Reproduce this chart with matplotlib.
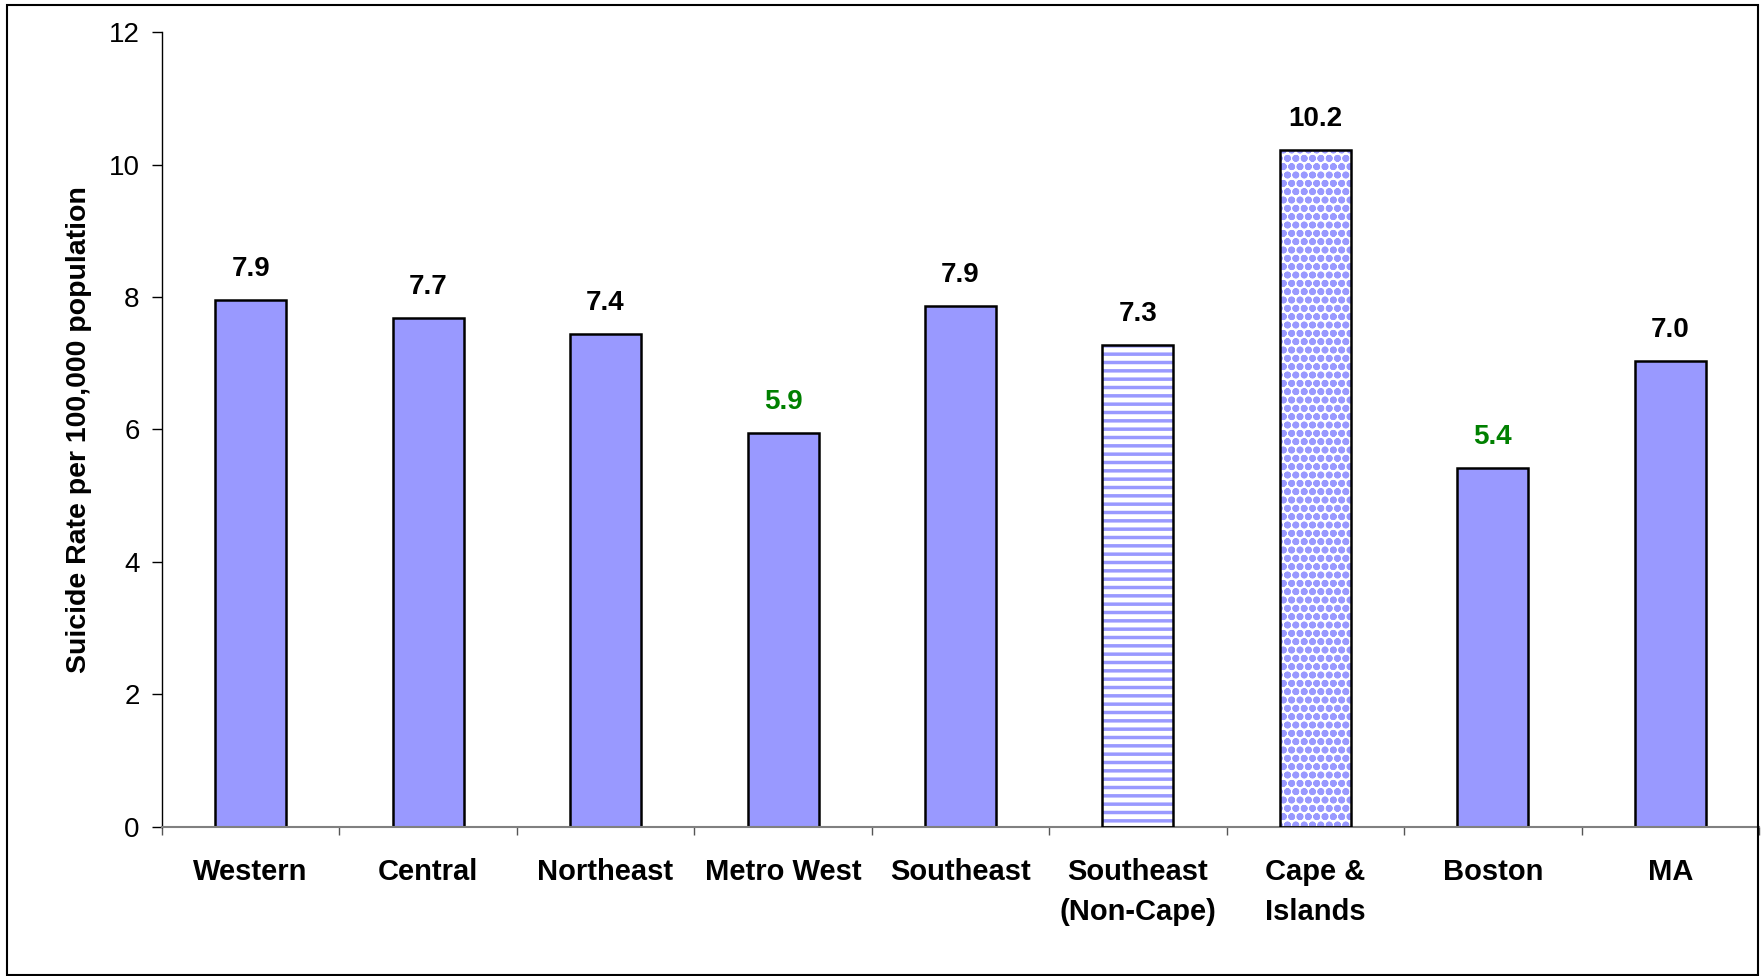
import matplotlib
matplotlib.use("Agg")
import matplotlib.pyplot as plt
from matplotlib.patches import Rectangle
import numpy as np

categories = ["Western", "Central", "Northeast", "Metro West", "Southeast",
              "Southeast\n(Non-Cape)", "Cape &\nIslands", "Boston", "MA"]
rates = [7.95, 7.68, 7.44, 5.94, 7.86, 7.27, 10.22, 5.42, 7.03]
value_labels = ["7.9", "7.7", "7.4", "5.9", "7.9", "7.3", "10.2", "5.4", "7.0"]
label_colors = ["black", "black", "black", "#008000", "black", "black", "black", "#008000", "black"]
hatches = [None, None, None, None, None, "--", "oo", None, None]
y_ticks = [0, 2, 4, 6, 8, 10, 12]

plt.rcParams['font.family'] = ['Liberation Sans', 'DejaVu Sans']
plt.rcParams['hatch.linewidth'] = 2.5

fig = plt.figure(figsize=(17.62, 9.76), dpi=100)
ax = fig.add_axes([0.0919, 0.1527, 0.9064, 0.8145])

x = np.arange(len(categories))
fill = '#9999FF'
for xi, h, ht in zip(x, rates, hatches):
    if ht is None:
        ax.bar(xi, h, width=0.4, color=fill, edgecolor='black', linewidth=1.8, zorder=2)
    else:
        ax.bar(xi, h, width=0.4, color='white', edgecolor=fill, hatch=ht, linewidth=0, zorder=2)
        ax.bar(xi, h, width=0.4, fill=False, edgecolor='black', linewidth=1.8, zorder=3)

for xi, h, lab, c in zip(x, rates, value_labels, label_colors):
    ax.annotate(lab, (xi, h), xytext=(0, 13), textcoords='offset points',
                ha='center', va='bottom', fontsize=20, fontweight='bold', color=c)

ax.set_xlim(-0.5, len(categories) - 0.5)
ax.set_ylim(0, 12)
ax.set_yticks(y_ticks)
ax.set_yticklabels([str(t) for t in y_ticks], fontsize=20)
ax.tick_params(axis='y', length=7, width=1, color='black', pad=9)

ax.set_xticks(x)
ax.set_xticklabels(categories, fontsize=21, fontweight='bold', linespacing=1.55)
ax.tick_params(axis='x', which='major', length=0, pad=22)
ax.set_xticks(np.arange(len(categories) + 1) - 0.5, minor=True)
ax.tick_params(axis='x', which='minor', length=6, width=1, color='#555555', direction='out')

ax.set_ylabel("Suicide Rate per 100,000 population", fontsize=20.5, fontweight='bold', labelpad=12)

for s in ['top', 'right']:
    ax.spines[s].set_visible(False)
ax.spines['left'].set_color('black')
ax.spines['left'].set_linewidth(1.0)
ax.spines['bottom'].set_color('#808080')
ax.spines['bottom'].set_linewidth(1.5)

frame = Rectangle((7 / 1762, 1 / 976), 1751 / 1762, 970 / 976, transform=fig.transFigure,
                  fill=False, edgecolor='black', linewidth=1.5)
fig.patches.append(frame)

fig.savefig("out.png", dpi=100, facecolor='white')
